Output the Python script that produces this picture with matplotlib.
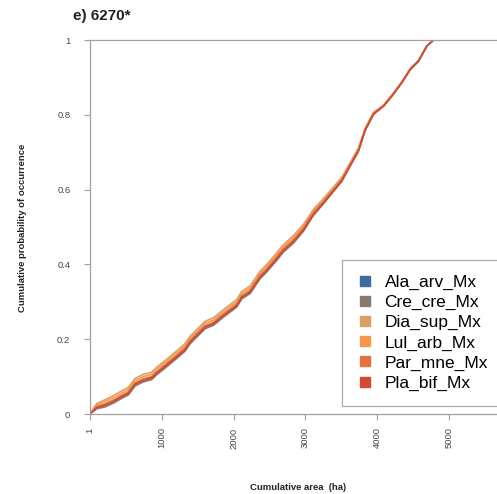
import matplotlib
matplotlib.use("Agg")
import matplotlib.pyplot as plt
from matplotlib.lines import Line2D

plt.rcParams['font.family'] = ['Liberation Sans', 'DejaVu Sans']

# cumulative area (ha) sampled along the curves
area = [1, 94, 210, 325, 442, 534, 628, 743, 860, 930, 1046, 1185, 1324, 1394,
        1603, 1718, 1858, 2044, 2114, 2229, 2369, 2462, 2601, 2693, 2833, 2972,
        3111, 3250, 3390, 3506, 3622, 3738, 3831, 3947, 4086, 4203, 4342, 4458,
        4574, 4690, 4782]

ala_arv = [0.0, 0.018, 0.025, 0.035, 0.048, 0.057, 0.081, 0.092, 0.098, 0.111, 0.129,
           0.151, 0.174, 0.194, 0.234, 0.243, 0.265, 0.292, 0.314, 0.328, 0.368, 0.386,
           0.417, 0.439, 0.463, 0.494, 0.536, 0.566, 0.598, 0.625, 0.665, 0.705, 0.760,
           0.803, 0.824, 0.851, 0.887, 0.922, 0.944, 0.984, 1.0]
cre_cre = [0.0, 0.014, 0.019, 0.029, 0.042, 0.051, 0.075, 0.086, 0.092, 0.105, 0.123,
           0.145, 0.168, 0.188, 0.228, 0.237, 0.259, 0.286, 0.308, 0.322, 0.362, 0.380,
           0.411, 0.433, 0.457, 0.489, 0.531, 0.562, 0.595, 0.622, 0.663, 0.703, 0.758,
           0.801, 0.823, 0.850, 0.886, 0.921, 0.944, 0.984, 1.0]
dia_sup = [0.0, 0.028, 0.038, 0.049, 0.062, 0.071, 0.095, 0.106, 0.112, 0.125, 0.143,
           0.165, 0.188, 0.208, 0.248, 0.257, 0.279, 0.306, 0.328, 0.342, 0.382, 0.400,
           0.431, 0.453, 0.477, 0.507, 0.547, 0.576, 0.607, 0.633, 0.672, 0.711, 0.764,
           0.806, 0.826, 0.853, 0.888, 0.923, 0.945, 0.984, 1.0]
lul_arb = [0.0, 0.024, 0.033, 0.043, 0.056, 0.065, 0.089, 0.100, 0.106, 0.119, 0.137,
           0.159, 0.182, 0.202, 0.242, 0.251, 0.273, 0.300, 0.322, 0.336, 0.376, 0.394,
           0.425, 0.447, 0.471, 0.501, 0.542, 0.571, 0.603, 0.630, 0.669, 0.709, 0.762,
           0.805, 0.825, 0.852, 0.888, 0.922, 0.944, 0.984, 1.0]
par_mne = [0.0, 0.020, 0.027, 0.037, 0.050, 0.059, 0.083, 0.094, 0.100, 0.113, 0.131,
           0.153, 0.176, 0.196, 0.236, 0.245, 0.267, 0.294, 0.316, 0.330, 0.370, 0.388,
           0.419, 0.441, 0.465, 0.496, 0.537, 0.567, 0.599, 0.626, 0.666, 0.706, 0.760,
           0.803, 0.824, 0.851, 0.887, 0.922, 0.944, 0.984, 1.0]
pla_bif = [0.0, 0.017, 0.023, 0.033, 0.046, 0.055, 0.079, 0.090, 0.096, 0.109, 0.127,
           0.149, 0.172, 0.192, 0.232, 0.241, 0.263, 0.290, 0.312, 0.326, 0.366, 0.384,
           0.415, 0.437, 0.461, 0.492, 0.534, 0.564, 0.597, 0.624, 0.664, 0.704, 0.759,
           0.802, 0.823, 0.850, 0.886, 0.921, 0.944, 0.984, 1.0]

names = ["Ala_arv_Mx", "Cre_cre_Mx", "Dia_sup_Mx", "Lul_arb_Mx", "Par_mne_Mx", "Pla_bif_Mx"]
series = [ala_arv, cre_cre, dia_sup, lul_arb, par_mne, pla_bif]
colors = ["#3d6d9e", "#857a70", "#dba065", "#f5994f", "#e5713f", "#d24a33"]

xticks = [1, 1000, 2000, 3000, 4000, 5000]
yticks = [0, 0.2, 0.4, 0.6, 0.8, 1]
ylabels = ["0", "0.2", "0.4", "0.6", "0.8", "1"]

fig = plt.figure(figsize=(4.97, 4.94), dpi=100)
W, H = 497.0, 494.0
ax = fig.add_axes([90 / W, 80 / H, (521 - 90) / W, 374 / H])

for y, c in zip(series, colors):
    ax.plot(area, y, color=c, lw=1.2, solid_joinstyle='round')

ax.set_xlim(1, 6000)
ax.set_ylim(0, 1)
ax.set_xticks(xticks)
ax.set_xticklabels([str(t) for t in xticks], rotation=90)
ax.set_yticks(yticks)
ax.set_yticklabels(ylabels)
ax.tick_params(direction='out', length=4.2, width=0.8, color='#a0a0a0',
               labelsize=6.8, labelcolor='#444444')
ax.tick_params(axis='y', pad=10)
ax.tick_params(axis='x', pad=5.5)
for s in ['left', 'bottom', 'top']:
    ax.spines[s].set_color('#a0a0a0')
    ax.spines[s].set_linewidth(0.9)
ax.spines['right'].set_visible(False)

fig.text(23 / W, 1 - 228 / H, "Cumulative probability of occurrence", rotation=90,
         ha='center', va='center', fontsize=6.8, fontweight='bold', color='#222222')
fig.text(298 / W, 1 - 487 / H, "Cumulative area  (ha)", ha='center', va='center',
         fontsize=6.8, fontweight='bold', color='#222222')
fig.text(73 / W, 1 - 16 / H, "e) 6270*", ha='left', va='center',
         fontsize=11, fontweight='bold', color='#222222')

handles = [Line2D([], [], marker='s', ls='none', markersize=7.5, color=c) for c in colors]
leg = fig.legend(handles, names, loc='upper left', bbox_to_anchor=(342 / W, 1 - 260 / H),
                 bbox_transform=fig.transFigure, borderaxespad=0, fontsize=12.5,
                 frameon=True, fancybox=False, edgecolor='#aaaaaa', framealpha=1,
                 borderpad=0.85, labelspacing=0.28, handlelength=1.0, handletextpad=0.6)
leg.get_frame().set_linewidth(0.9)

fig.savefig("out.png", dpi=100)
